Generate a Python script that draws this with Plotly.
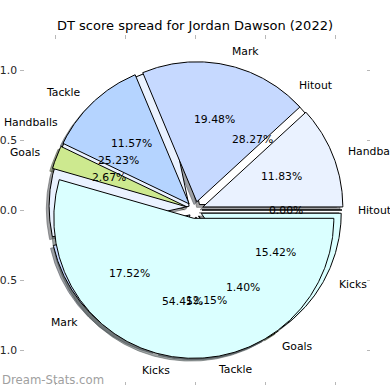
import numpy as np
import plotly.graph_objects as go

TITLE = "DT score spread for Jordan Dawson (2022)"

# Pie drawn first (underneath)
labels_b = ["Hitout", "Handballs", "Mark", "Tackle", "Goals", "Kicks", "Hitout"]
values_b = [28.27, 25.23, 17.52, 12.15, 1.40, 15.42, 0.00]
explode_b = [0.05, 0.05, 0.05, 0.05, 0.05, 0.05, 0.05]

# Pie drawn on top
labels_a = ["Handballs", "Mark", "Tackle", "Goals", "Kicks"]
values_a = [11.83, 19.48, 11.57, 2.67, 54.45]
explode_a = [0.06, 0.06, 0.06, 0.06, 0.06]

colors = {
    "Kicks": "#daffff",
    "Handballs": "#eaf2ff",
    "Mark": "#c6d9ff",
    "Tackle": "#b5d4ff",
    "Goals": "#cde98f",
    "Hitout": "#ffffff",
}

tick_vals = [-1.0, -0.5, 0.0, 0.5, 1.0]
FONT = "DejaVu Sans"
TXT = 10.8
SHADOW_OFF = -0.02
LABEL_DIST = 1.1
PCT_DIST = 0.6


def hex_rgb(h):
    h = h.lstrip("#")
    return tuple(int(h[i:i + 2], 16) for i in (0, 2, 4))


def pie_geometry(values, explode):
    total = float(sum(values))
    out = []
    t = 0.0
    for v, e in zip(values, explode):
        span = 360.0 * v / total
        t1, t2 = t, t + span
        mid = np.deg2rad((t1 + t2) / 2)
        cx, cy = e * np.cos(mid), e * np.sin(mid)
        out.append((t1, t2, mid, cx, cy))
        t = t2
    return out


def wedge_xy(cx, cy, t1, t2, r=1.0):
    n = max(2, int(abs(t2 - t1) * 2) + 2)
    th = np.deg2rad(np.linspace(t1, t2, n))
    xs = np.concatenate([[cx], cx + r * np.cos(th), [cx]])
    ys = np.concatenate([[cy], cy + r * np.sin(th), [cy]])
    return xs, ys


fig = go.Figure()
geo_b = pie_geometry(values_b, explode_b)
geo_a = pie_geometry(values_a, explode_a)

# shadows (both pies) beneath all wedges
for labels, geo in ((labels_b, geo_b), (labels_a, geo_a)):
    for lab, (t1, t2, mid, cx, cy) in zip(labels, geo):
        xs, ys = wedge_xy(cx + SHADOW_OFF, cy + SHADOW_OFF, t1, t2)
        r, g, b = hex_rgb(colors[lab])
        sc = f"rgba({int(r*0.3)},{int(g*0.3)},{int(b*0.3)},0.5)"
        fig.add_trace(go.Scatter(x=xs, y=ys, mode="lines", fill="toself",
                                 fillcolor=sc, line=dict(color=sc, width=1),
                                 hoverinfo="skip", showlegend=False))

# wedges
for labels, geo in ((labels_b, geo_b), (labels_a, geo_a)):
    for lab, (t1, t2, mid, cx, cy) in zip(labels, geo):
        xs, ys = wedge_xy(cx, cy, t1, t2)
        fig.add_trace(go.Scatter(x=xs, y=ys, mode="lines", fill="toself",
                                 fillcolor=colors[lab],
                                 line=dict(color="black", width=1),
                                 hoverinfo="skip", showlegend=False))

annotations = []
for labels, values, geo in ((labels_b, values_b, geo_b), (labels_a, values_a, geo_a)):
    total = float(sum(values))
    for lab, v, (t1, t2, mid, cx, cy) in zip(labels, values, geo):
        xt = cx + LABEL_DIST * np.cos(mid)
        yt = cy + LABEL_DIST * np.sin(mid)
        annotations.append(dict(x=xt, y=yt, xref="x", yref="y", text=lab,
                                showarrow=False,
                                xanchor="left" if xt > 0 else "right",
                                yanchor="middle",
                                font=dict(family=FONT, size=TXT, color="#000")))
        xp = cx + PCT_DIST * np.cos(mid)
        yp = cy + PCT_DIST * np.sin(mid)
        annotations.append(dict(x=xp, y=yp, xref="x", yref="y",
                                text=f"{100.0 * v / total:.2f}%",
                                showarrow=False, xanchor="center",
                                yanchor="middle",
                                font=dict(family=FONT, size=TXT, color="#000")))

annotations.append(dict(x=-20 / 350, y=5 / 350, xref="paper", yref="paper",
                        text="Dream-Stats.com", showarrow=False,
                        xanchor="left", yanchor="middle",
                        font=dict(family=FONT, size=11.7, color="#a0a0a0")))

axis_common = dict(range=[-1.25, 1.25], tickvals=tick_vals,
                   ticktext=[f"{v:.1f}".replace("-", "\u2212") for v in tick_vals],
                   ticks="inside", ticklen=3.5, tickwidth=1,
                   tickcolor="#b8b8b8", mirror="ticks", showgrid=False,
                   zeroline=False, showline=False, automargin=False,
                   tickfont=dict(family=FONT, size=TXT, color="#262626"))

fig.update_layout(
    width=390, height=390, autosize=False,
    margin=dict(l=20, r=20, t=35, b=5),
    paper_bgcolor="white", plot_bgcolor="white",
    title=dict(text=TITLE, x=0.5, xanchor="center", y=1 - 25 / 390,
               yanchor="middle", yref="container", automargin=False,
               font=dict(family=FONT, size=13, color="#000")),
    xaxis=dict(**axis_common, ticklabelstandoff=3),
    yaxis=dict(**axis_common, scaleanchor="x", scaleratio=1,
               ticklabelstandoff=2),
    annotations=annotations,
)

fig.write_html("out.html",
               config={"displayModeBar": False},
               post_script="document.body.style.margin='0';"
                           "document.body.style.overflow='hidden';")
